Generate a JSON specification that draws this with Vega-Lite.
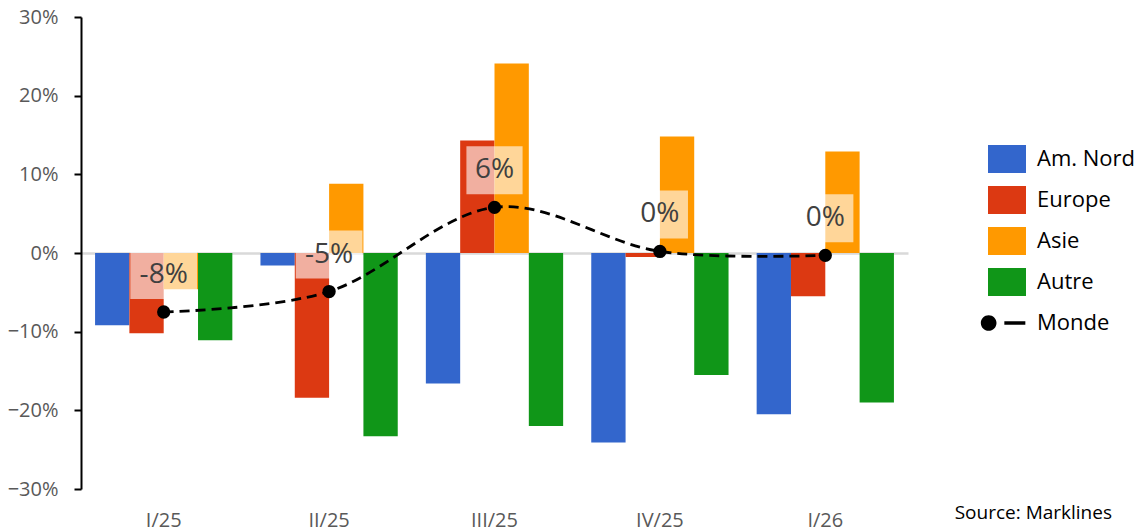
{
  "$schema": "https://vega.github.io/schema/vega-lite/v6.json",
  "width": 827,
  "height": 472,
  "autosize": {"type": "none"},
  "padding": {"left": 81, "top": 17, "right": 234, "bottom": 43},
  "background": "white",
  "config": {"view": {"stroke": null}, "font": "Open Sans"},
  "title": {"text": "Source: Marklines", "orient": "bottom", "anchor": "end", "frame": "group", "fontSize": 19, "fontWeight": "normal", "color": "#000000", "font": "Open Sans", "offset": -26, "dx": 204},
  "data": {"values": [
    {"period": "I/25", "region": "Am. Nord", "value": -0.092},
    {"period": "I/25", "region": "Europe", "value": -0.102},
    {"period": "I/25", "region": "Asie", "value": -0.046},
    {"period": "I/25", "region": "Autre", "value": -0.111},
    {"period": "I/25", "region": "Monde", "value": -0.075, "label": "-8%"},
    {"period": "II/25", "region": "Am. Nord", "value": -0.016},
    {"period": "II/25", "region": "Europe", "value": -0.184},
    {"period": "II/25", "region": "Asie", "value": 0.088},
    {"period": "II/25", "region": "Autre", "value": -0.233},
    {"period": "II/25", "region": "Monde", "value": -0.049, "label": "-5%"},
    {"period": "III/25", "region": "Am. Nord", "value": -0.166},
    {"period": "III/25", "region": "Europe", "value": 0.143},
    {"period": "III/25", "region": "Asie", "value": 0.241},
    {"period": "III/25", "region": "Autre", "value": -0.220},
    {"period": "III/25", "region": "Monde", "value": 0.058, "label": "6%"},
    {"period": "IV/25", "region": "Am. Nord", "value": -0.241},
    {"period": "IV/25", "region": "Europe", "value": -0.005},
    {"period": "IV/25", "region": "Asie", "value": 0.148},
    {"period": "IV/25", "region": "Autre", "value": -0.155},
    {"period": "IV/25", "region": "Monde", "value": 0.002, "label": "0%"},
    {"period": "I/26", "region": "Am. Nord", "value": -0.205},
    {"period": "I/26", "region": "Europe", "value": -0.055},
    {"period": "I/26", "region": "Asie", "value": 0.129},
    {"period": "I/26", "region": "Autre", "value": -0.190},
    {"period": "I/26", "region": "Monde", "value": -0.003, "label": "0%"}
  ]},
  "encoding": {
    "x": {"field": "period", "type": "nominal", "sort": ["I/25", "II/25", "III/25", "IV/25", "I/26"],
      "scale": {"paddingInner": 0.17, "paddingOuter": 0.085},
      "axis": {"title": null, "labelAngle": 0, "domain": false, "ticks": false, "labelPadding": 21, "labelFontSize": 20, "labelColor": "#595959", "labelFont": "Open Sans"}},
    "y": {"field": "value", "type": "quantitative",
      "scale": {"domain": [-0.3, 0.3], "nice": false, "zero": false},
      "axis": {"title": null, "values": [-0.3, -0.2, -0.1, 0, 0.1, 0.2, 0.3], "format": ".0%", "domainColor": "#000000", "domainWidth": 2, "tickColor": "#000000", "tickWidth": 2, "tickSize": 7, "labelPadding": 16, "labelFontSize": 20, "labelColor": "#595959", "labelFont": "Open Sans", "grid": true, "gridColor": {"condition": {"test": "datum.value === 0", "value": "#D9D9D9"}, "value": "transparent"}, "gridWidth": 2.5}}
  },
  "layer": [
    {
      "transform": [{"filter": "datum.region !== 'Monde'"}],
      "mark": {"type": "bar", "opacity": 1},
      "encoding": {
        "xOffset": {"field": "region", "type": "nominal", "sort": ["Am. Nord", "Europe", "Asie", "Autre"], "scale": {"domain": ["Am. Nord", "Europe", "Asie", "Autre"], "paddingInner": 0, "paddingOuter": 0}},
        "color": {"field": "region", "type": "nominal",
          "scale": {"domain": ["Am. Nord", "Europe", "Asie", "Autre", "Monde"], "range": ["#3366CC", "#DC3912", "#FF9900", "#109618", "#000000"]},
          "legend": {"title": null, "orient": "none", "legendX": 912, "legendY": 128, "labelFont": "Open Sans", "labelFontSize": 22, "labelColor": "#000000", "symbolSize": 784, "rowPadding": 13, "labelOffset": 16, "padding": 0, "symbolStrokeWidth": 0, "symbolOpacity": 1}}
      }
    },
    {
      "transform": [{"filter": "datum.region === 'Monde'"}],
      "mark": {"type": "point", "filled": true, "color": "white", "opacity": 0.6, "size": 2304, "yOffset": -37, "strokeWidth": 0},
      "encoding": {
        "shape": {"condition": {"test": "datum.value < -0.01", "value": "M-1.39,-1H1.39V1H-1.39Z"}, "value": "M-1.17,-1H1.17V1H-1.17Z"}
      }
    },
    {
      "transform": [{"filter": "datum.region === 'Monde'"}],
      "mark": {"type": "line", "color": "#000000", "strokeWidth": 2.8, "strokeDash": [10, 6], "interpolate": "cardinal"},
      "encoding": {}
    },
    {
      "transform": [{"filter": "datum.region === 'Monde'"}],
      "mark": {"type": "point", "filled": true, "color": "#000000", "opacity": 1, "size": 177, "strokeWidth": 0}
    },
    {
      "transform": [{"filter": "datum.region === 'Monde'"}],
      "mark": {"type": "text", "fontSize": 28, "color": "#404040", "yOffset": -37, "baseline": "middle", "font": "Open Sans"},
      "encoding": {"text": {"field": "label"}}
    },
    {
      "transform": [{"filter": "false"}],
      "mark": {"type": "point", "filled": true, "opacity": 1, "strokeWidth": 0},
      "encoding": {
        "color": {"field": "region", "type": "nominal",
          "scale": {"domain": ["Am. Nord", "Europe", "Asie", "Autre", "Monde"], "range": ["#3366CC", "#DC3912", "#FF9900", "#109618", "#000000"]},
          "legend": {"title": null, "orient": "none", "legendX": 912, "legendY": 128, "labelFont": "Open Sans", "labelFontSize": 22, "labelColor": "#000000", "symbolSize": 784, "rowPadding": 13, "labelOffset": 16, "padding": 0, "symbolStrokeWidth": 0, "symbolOpacity": 1}},
        "shape": {"field": "region", "type": "nominal",
          "scale": {"domain": ["Am. Nord", "Europe", "Asie", "Autre", "Monde"], "range": ["M-1.357,-1H1.357V1H-1.357Z", "M-1.357,-1H1.357V1H-1.357Z", "M-1.357,-1H1.357V1H-1.357Z", "M-1.357,-1H1.357V1H-1.357Z", "M-1.87,0A0.56,0.56,0,1,0,-0.75,0A0.56,0.56,0,1,0,-1.87,0Z M-0.19,-0.125H1.31V0.125H-0.19Z"]},
          "legend": {"title": null, "orient": "none", "legendX": 912, "legendY": 128, "labelFont": "Open Sans", "labelFontSize": 22, "labelColor": "#000000", "symbolSize": 784, "rowPadding": 13, "labelOffset": 16, "padding": 0, "symbolStrokeWidth": 0, "symbolOpacity": 1}}
      }
    }
  ]
}
